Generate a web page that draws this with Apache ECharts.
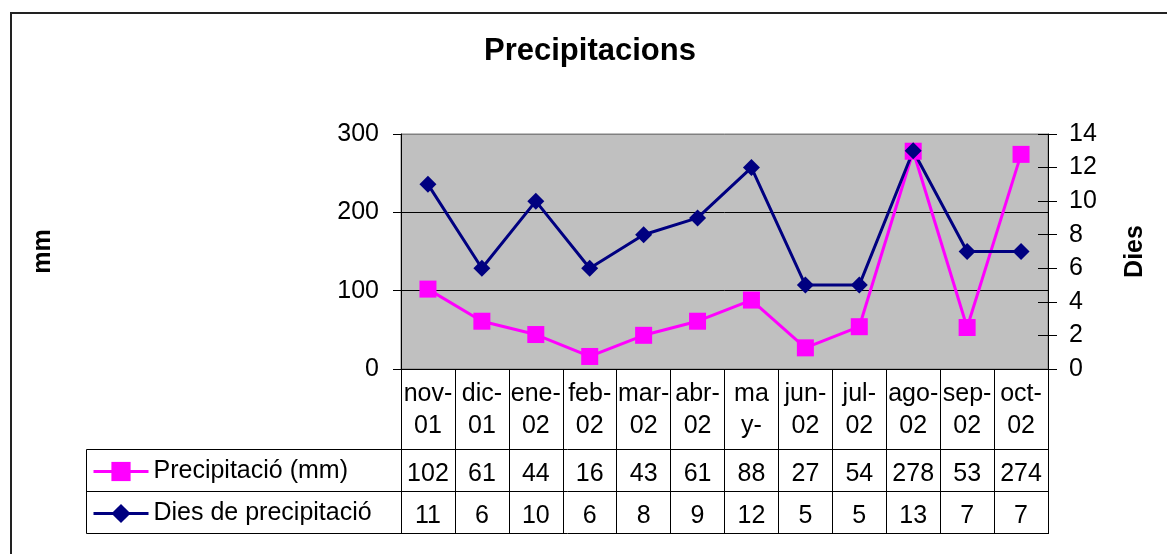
<!DOCTYPE html>
<html>
<head>
<meta charset="utf-8">
<script src="https://cdn.jsdelivr.net/npm/echarts@6/dist/echarts.min.js"></script>
<style>
  html, body { margin: 0; padding: 0; background: #fff; }
  #chart { width: 1167px; height: 554px; }
</style>
</head>
<body>
<div id="chart"></div>
<script>
// mesos (categories) i les etiquetes tal com surten a la taula
var months = ['nov-01', 'dic-01', 'ene-02', 'feb-02', 'mar-02', 'abr-02', 'may-02', 'jun-02', 'jul-02', 'ago-02', 'sep-02', 'oct-02']
var monthLabels = ['nov-\n01', 'dic-\n01', 'ene-\n02', 'feb-\n02', 'mar-\n02', 'abr-\n02', 'ma\ny-', 'jun-\n02', 'jul-\n02', 'ago-\n02', 'sep-\n02', 'oct-\n02']
var precipitacio = [102, 61, 44, 16, 43, 61, 88, 27, 54, 278, 53, 274]
var dies = [11, 6, 10, 6, 8, 9, 12, 5, 5, 13, 7, 7]
var seriesNames = ['Precipitació (mm)', 'Dies de precipitació']

var font = 'Arial, "Liberation Sans", sans-serif'
var myChart = echarts.init(document.getElementById('chart'))

var option = {
    backgroundColor: '#fff',
    animation: false,
    textStyle: { fontFamily: font, color: '#000' },
    title: {
        text: 'Precipitacions',
        left: 484,
        top: 36,
        padding: 0,
        textStyle: { fontFamily: font, fontSize: 31, fontWeight: 'bold', color: '#000' }
    },
    legend: {
        orient: 'vertical',
        left: 92,
        top: 459,
        itemWidth: 55,
        itemHeight: 24,
        itemGap: 17,
        padding: 0,
        data: seriesNames,
        lineStyle: { width: 3 },
        textStyle: { fontFamily: font, fontSize: 25, color: '#000' }
    },
    grid: {
        left: 401,
        right: 119,
        top: 134,
        bottom: 185,
        show: true,
        backgroundColor: '#c0c0c0',
        borderColor: '#808080',
        borderWidth: 1
    },
    xAxis: [
        {
            type: 'category',
            data: months,
            axisLine: { lineStyle: { color: '#000', width: 1 } },
            axisTick: { show: true, length: 165, lineStyle: { color: '#000' } },
            axisLabel: {
                interval: 0,
                margin: 9,
                fontSize: 25,
                lineHeight: 32,
                color: '#000',
                fontFamily: font,
                formatter: function (v, i) { return monthLabels[i] }
            }
        },
        {
            type: 'category',
            position: 'bottom',
            offset: 80,
            data: precipitacio.map(String),
            axisLine: { show: false },
            axisTick: { show: false },
            axisLabel: { interval: 0, margin: 10, fontSize: 25, lineHeight: 30, color: '#000', fontFamily: font }
        },
        {
            type: 'category',
            position: 'bottom',
            offset: 122,
            data: dies.map(String),
            axisLine: { show: false },
            axisTick: { show: false },
            axisLabel: { interval: 0, margin: 10, fontSize: 25, lineHeight: 30, color: '#000', fontFamily: font }
        }
    ],
    yAxis: [
        {
            type: 'value',
            name: 'mm',
            nameLocation: 'middle',
            nameRotate: 90,
            nameGap: 345,
            nameTextStyle: { fontFamily: font, fontSize: 25, fontWeight: 'bold', color: '#000' },
            min: 0,
            max: 300,
            interval: 100,
            axisLine: { show: true, lineStyle: { color: '#000' } },
            axisTick: { show: true, length: 8, lineStyle: { color: '#000' } },
            axisLabel: { margin: 22, fontSize: 25, color: '#000', fontFamily: font },
            splitLine: { show: true, lineStyle: { color: ['#000', '#000', '#000', '#808080'], width: 1 } }
        },
        {
            type: 'value',
            name: 'Dies',
            nameLocation: 'middle',
            nameRotate: 90,
            nameGap: 75,
            nameTextStyle: { fontFamily: font, fontSize: 25, fontWeight: 'bold', color: '#000' },
            position: 'right',
            min: 0,
            max: 14,
            interval: 2,
            axisLine: { show: true, lineStyle: { color: '#000' } },
            axisTick: { show: true, length: 9, lineStyle: { color: '#000' } },
            axisLabel: { margin: 21, fontSize: 25, color: '#000', fontFamily: font },
            splitLine: { show: false }
        },
        {
            // marques cap a dins de l'eix dret (ticks creuats)
            type: 'value',
            position: 'right',
            min: 0,
            max: 14,
            interval: 2,
            axisLine: { show: false },
            axisTick: { show: true, inside: true, length: 10, lineStyle: { color: '#000' } },
            axisLabel: { show: false },
            splitLine: { show: false }
        }
    ],
    series: [
        {
            name: seriesNames[0],
            type: 'line',
            xAxisIndex: 0,
            yAxisIndex: 0,
            data: precipitacio,
            symbol: 'rect',
            symbolSize: 17,
            lineStyle: { color: '#ff00ff', width: 3 },
            itemStyle: { color: '#ff00ff' }
        },
        {
            name: seriesNames[1],
            type: 'line',
            xAxisIndex: 0,
            yAxisIndex: 1,
            data: dies,
            symbol: 'diamond',
            symbolSize: 17,
            lineStyle: { color: '#000080', width: 3 },
            itemStyle: { color: '#000080' }
        }
    ],
    graphic: [
        {
            type: 'rect',
            shape: { x: 11, y: 13, width: 1200, height: 600 },
            style: { fill: 'none', stroke: '#222', lineWidth: 2 },
            silent: true
        },
        {
            type: 'rect',
            shape: { x: 86.5, y: 449.5, width: 962, height: 84 },
            style: { fill: 'none', stroke: '#000', lineWidth: 1 },
            silent: true
        },
        {
            type: 'line',
            shape: { x1: 86.5, y1: 491.5, x2: 1048.5, y2: 491.5 },
            style: { stroke: '#000', lineWidth: 1 },
            silent: true
        }
    ]
}
myChart.setOption(option)
</script>
</body>
</html>
